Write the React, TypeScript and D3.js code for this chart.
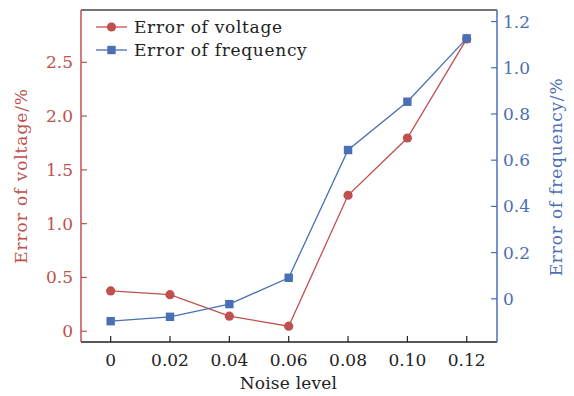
import React from "react";
import * as d3 from "d3";

const noiseLevels = [0, 0.02, 0.04, 0.06, 0.08, 0.1, 0.12];
const voltageError = [0.375, 0.34, 0.14, 0.047, 1.264, 1.796, 2.717];
const frequencyError = [-0.097, -0.078, -0.023, 0.091, 0.644, 0.853, 1.127];
const xTicks = [0, 0.02, 0.04, 0.06, 0.08, 0.1, 0.12];
const xTickLabels = ["0", "0.02", "0.04", "0.06", "0.08", "0.10", "0.12"];
const leftTicks = [0, 0.5, 1.0, 1.5, 2.0, 2.5];
const leftTickLabels = ["0", "0.5", "1.0", "1.5", "2.0", "2.5"];
const rightTicks = [0, 0.2, 0.4, 0.6, 0.8, 1.0, 1.2];
const rightTickLabels = ["0", "0.2", "0.4", "0.6", "0.8", "1.0", "1.2"];

const RED = "#c0504d";
const BLUE = "#4a6fb5";
const FONT = "DejaVu Serif";

export default function App() {
  const W = 574, H = 396;
  const left = 81, right = 497, top = 10, bottom = 342;
  const x = d3.scaleLinear().domain([-0.01, 0.1302]).range([left, right]);
  const yL = d3.scaleLinear().domain([-0.1, 2.986]).range([bottom, top]);
  const yR = d3.scaleLinear().domain([-0.187, 1.25]).range([bottom, top]);
  const lineL = d3.line<number>().x((_, i) => x(noiseLevels[i])).y((d) => yL(d));
  const lineR = d3.line<number>().x((_, i) => x(noiseLevels[i])).y((d) => yR(d));
  const fs = 17;
  const tick = 6;
  return (
    <svg width={W} height={H} style={{ position: "absolute", left: 0, top: 0, background: "#fff" }} fontFamily={FONT}>
      <rect x={0} y={0} width={W} height={H} fill="#fff" />
      {/* frame */}
      <line x1={left} x2={right} y1={top} y2={top} stroke="#444" strokeWidth={1.5} />
      <line x1={left} x2={right} y1={bottom} y2={bottom} stroke="#222" strokeWidth={1.5} />
      <line x1={left} x2={left} y1={top} y2={bottom} stroke={RED} strokeWidth={1.5} />
      <line x1={right} x2={right} y1={top} y2={bottom} stroke={BLUE} strokeWidth={1.5} />
      {/* x ticks */}
      {xTicks.map((t, i) => (
        <g key={"x" + i}>
          <line x1={x(t)} x2={x(t)} y1={bottom} y2={bottom - tick} stroke="#222" strokeWidth={1.2} />
          <text x={x(t)} y={366} fontSize={fs} textAnchor="middle" fill="#222">{xTickLabels[i]}</text>
        </g>
      ))}
      {leftTicks.map((t, i) => (
        <g key={"l" + i}>
          <line x1={left} x2={left + tick} y1={yL(t)} y2={yL(t)} stroke={RED} strokeWidth={1.2} />
          <text x={73} y={yL(t)} dy="0.35em" fontSize={fs} textAnchor="end" fill={RED}>{leftTickLabels[i]}</text>
        </g>
      ))}
      {rightTicks.map((t, i) => (
        <g key={"r" + i}>
          <line x1={right} x2={right - tick} y1={yR(t)} y2={yR(t)} stroke={BLUE} strokeWidth={1.2} />
          <text x={503} y={yR(t)} dy="0.35em" fontSize={fs} textAnchor="start" fill={BLUE}>{rightTickLabels[i]}</text>
        </g>
      ))}
      <text x={288.5} y={389} fontSize={fs} textAnchor="middle" fill="#222" letterSpacing={0.2}>Noise level</text>
      <text transform={`translate(27,176) rotate(-90)`} fontSize={fs} textAnchor="middle" fill={RED} letterSpacing={0.9}>Error of voltage/%</text>
      <text transform={`translate(562,177) rotate(-90)`} fontSize={fs} textAnchor="middle" fill={BLUE} letterSpacing={0.8}>Error of frequency/%</text>
      {/* series */}
      <path d={lineL(voltageError) || ""} fill="none" stroke={RED} strokeWidth={1.3} />
      <path d={lineR(frequencyError) || ""} fill="none" stroke={BLUE} strokeWidth={1.3} />
      {voltageError.map((v, i) => (
        <circle key={"c" + i} cx={x(noiseLevels[i])} cy={yL(v)} r={4.6} fill={RED} />
      ))}
      {frequencyError.map((v, i) => (
        <rect key={"s" + i} x={x(noiseLevels[i]) - 4.2} y={yR(v) - 4.2} width={8.4} height={8.4} fill={BLUE} />
      ))}
      {/* legend */}
      <line x1={96} x2={127} y1={27} y2={27} stroke={RED} strokeWidth={1.3} />
      <circle cx={111.5} cy={27} r={4.6} fill={RED} />
      <text x={134} y={27} dy="0.35em" fontSize={fs} fill="#222" letterSpacing={0.7}>Error of voltage</text>
      <line x1={96} x2={127} y1={50} y2={50} stroke={BLUE} strokeWidth={1.3} />
      <rect x={111.5 - 4.2} y={50 - 4.2} width={8.4} height={8.4} fill={BLUE} />
      <text x={134} y={50} dy="0.35em" fontSize={fs} fill="#222" letterSpacing={0.7}>Error of frequency</text>
    </svg>
  );
}
